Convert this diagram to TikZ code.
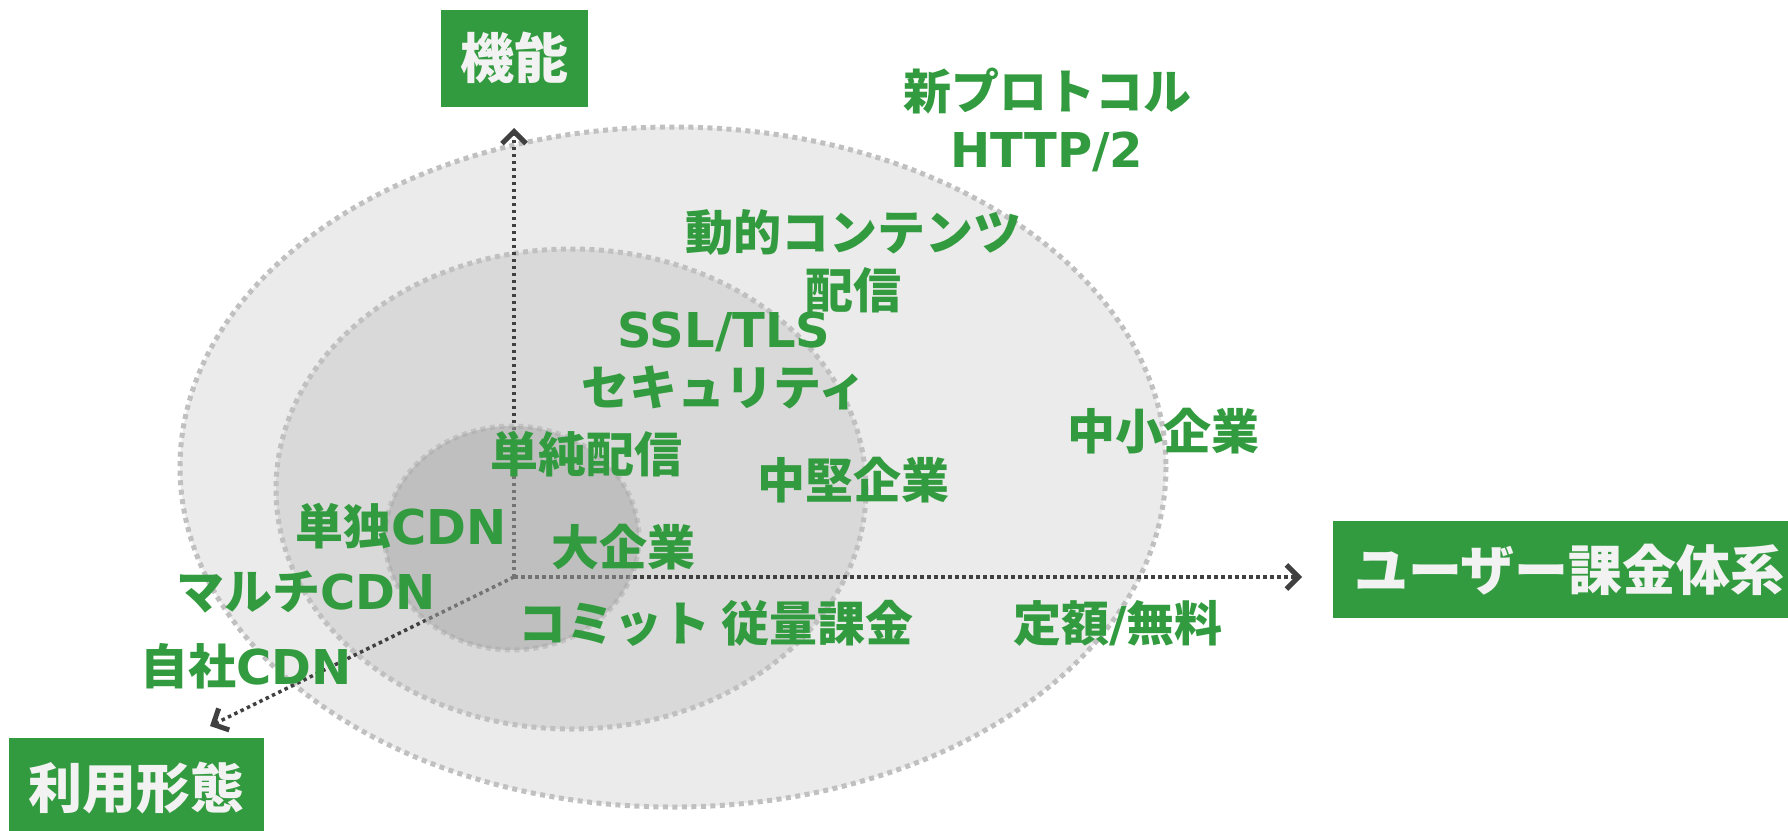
\documentclass[tikz,border=0pt]{standalone}
\usepackage{fontspec}
\setmainfont{Noto Sans CJK JP}
\newfontfamily\lat{DejaVu Sans}
\usetikzlibrary{arrows.meta}
\definecolor{grn}{HTML}{339B3F}
\definecolor{wtxt}{HTML}{F2F2F2}
\definecolor{axc}{HTML}{404040}
\definecolor{ring}{HTML}{C0C0C0}
\definecolor{fillA}{HTML}{EBEBEB}
\definecolor{fillB}{HTML}{D9D9D9}
\definecolor{fillC}{HTML}{A6A6A6}
\tikzset{
  lbl/.style={text=grn, font=\bfseries\fontsize{48}{58}\selectfont, align=center, inner sep=0pt},
  axbox/.style={fill=grn, text=wtxt, font=\bfseries\fontsize{54}{60}\selectfont, inner sep=0pt},
  axline/.style={draw=axc, line width=3.5pt, dash pattern=on 3.5pt off 3.5pt,
    -{Straight Barb[length=12pt,width=24pt,line width=5pt]}},
  ringline/.style={draw=ring, line width=5pt, dash pattern=on 5pt off 4.5pt}
}
\begin{document}
\begin{tikzpicture}[x=1pt,y=-1pt]
\useasboundingbox (0,0) rectangle (1788,830);
% ellipses
\path[ringline, fill=fillA] (673,467) ellipse [x radius=493, y radius=340];
\path[ringline, fill=fillB] (571,489) ellipse [x radius=295, y radius=240];
% axes
\coordinate (o) at (514,577);
\coordinate (up) at (514,128);
\coordinate (rt) at (1302,577);
\coordinate (dl) at (210,726);
\draw[axline] (o) -- (up);
\draw[axline] (o) -- (rt);
\draw[axline] (o) -- (dl);
% inner ellipse (translucent)
\path[draw=fillC, draw opacity=0.45, line width=5pt, dash pattern=on 5pt off 4.5pt, fill=fillC, fill opacity=0.5] (512,538) ellipse [x radius=127, y radius=112];
% axis boxes
\node[axbox, minimum width=147pt, minimum height=97pt] (kino) at (514.5,58) {機能};
\node[axbox, minimum width=473pt, minimum height=97pt] (user) at (1569.5,569.5) {ユーザー課金体系};
\node[axbox, minimum width=255pt, minimum height=100pt] (riyo) at (136.5,788) {利用形態};
% labels
\node[lbl] (t1) at (1047,120) {新プロトコル\\{\lat\bfseries HTTP/2}};
\node[lbl] (t2) at (853,261) {動的コンテンツ\\配信};
\node[lbl] (t3) at (724,361) {{\lat\bfseries SSL/TLS}\\セキュリティ};
\node[lbl] (t4) at (1163,431) {中小企業};
\node[lbl] (t5) at (586,454) {単純配信};
\node[lbl] (t6) at (853,480) {中堅企業};
\node[lbl] (t7) at (401,526) {単独{\lat\bfseries CDN}};
\node[lbl] (t8) at (623,547) {大企業};
\node[lbl] (t9) at (306,592) {マルチ{\lat\bfseries CDN}};
\node[lbl] (t10) at (716,623) {コミット 従量課金};
\node[lbl] (t11) at (1118,623) {定額{\lat\bfseries /}無料};
\node[lbl] (t12) at (246,666) {自社{\lat\bfseries CDN}};
\end{tikzpicture}
\end{document}
